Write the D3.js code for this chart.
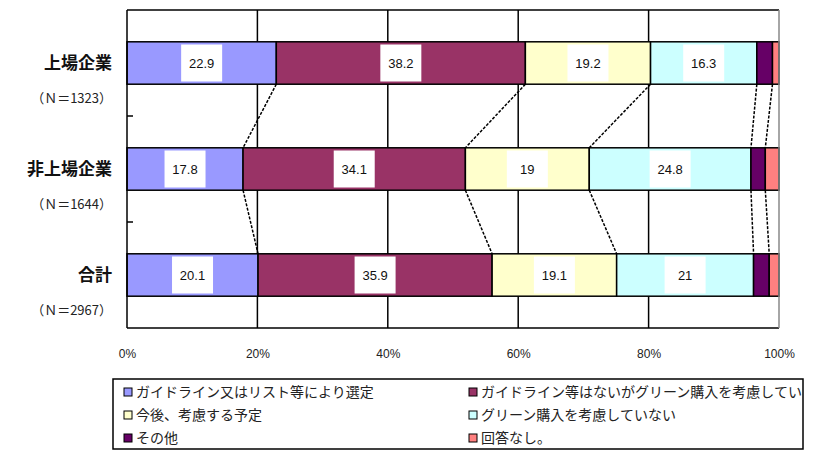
<!DOCTYPE html>
<html>
<head>
<meta charset="utf-8">
<script src="https://cdn.jsdelivr.net/npm/d3@7"></script>
<style>
  body { margin: 0; background: #fff; }
  svg { display: block; }
  text { font-family: "Noto Sans CJK JP", "Noto Sans", sans-serif; }
</style>
</head>
<body>
<svg id="chart" width="816" height="451"></svg>
<script>
// Respondent groups (row labels) and sample sizes
const categories = ["上場企業", "非上場企業", "合計"];
const sampleSizes = ["（Ｎ＝1323）", "（Ｎ＝1644）", "（Ｎ＝2967）"];

// Answer options, in stacking order
const seriesNames = [
  "ガイドライン又はリスト等により選定",
  "ガイドライン等はないがグリーン購入を考慮している",
  "今後、考慮する予定",
  "グリーン購入を考慮していない",
  "その他",
  "回答なし。"
];
const seriesColors = ["#9999FF", "#993366", "#FFFFCC", "#CCFFFF", "#660066", "#FF8080"];

// Share of answers (%) per group, one array per answer option
const guidelineList   = [22.9, 17.8, 20.1];
const considerWithout = [38.2, 34.1, 35.9];
const planToConsider  = [19.2, 19.0, 19.1];
const notConsidering  = [16.3, 24.8, 21.0];
const otherAnswer     = [2.4, 2.2, 2.4];
const noAnswer        = [1.0, 2.1, 1.5];

const xTicks = [0, 20, 40, 60, 80, 100];

const seriesValues = [guidelineList, considerWithout, planToConsider, notConsidering, otherAnswer, noAnswer];

const svg = d3.select("#chart");
const plot = { left: 127, right: 779, top: 10, bottom: 328 };

const x = d3.scaleLinear().domain([0, 100]).range([plot.left, plot.right]);
const y = d3.scaleBand().domain(categories).range([plot.top, plot.bottom])
  .paddingInner(0.6).paddingOuter(0.3);

// Build stacked rows
const rows = categories.map((c, i) => {
  const row = { cat: c };
  seriesNames.forEach((s, j) => row[s] = seriesValues[j][i]);
  return row;
});
const stacked = d3.stack().keys(seriesNames)(rows);

// Plot background and vertical gridlines
svg.append("rect").attr("x", plot.left).attr("y", plot.top)
  .attr("width", plot.right - plot.left).attr("height", plot.bottom - plot.top)
  .attr("fill", "#fff");
svg.append("g").selectAll("line").data(xTicks.slice(1, -1)).join("line")
  .attr("x1", d => x(d)).attr("x2", d => x(d))
  .attr("y1", plot.top).attr("y2", plot.bottom)
  .attr("stroke", "#000").attr("stroke-width", 1.5);

// Stacked bars
const layers = svg.append("g").selectAll("g").data(stacked).join("g")
  .attr("fill", (d, i) => seriesColors[i]);
layers.selectAll("rect").data(d => d).join("rect")
  .attr("x", d => x(d[0]))
  .attr("y", d => y(d.data.cat))
  .attr("width", d => x(d[1]) - x(d[0]))
  .attr("height", y.bandwidth())
  .attr("stroke", "#000").attr("stroke-width", 1.5);

// Series lines joining segment boundaries between neighbouring bars
const connectors = [];
for (let k = 0; k < stacked.length - 1; k++) {
  for (let i = 0; i < categories.length - 1; i++) {
    connectors.push({
      x1: x(stacked[k][i][1]), y1: y(categories[i]) + y.bandwidth(),
      x2: x(stacked[k][i + 1][1]), y2: y(categories[i + 1])
    });
  }
}
svg.append("g").selectAll("line").data(connectors).join("line")
  .attr("x1", d => d.x1).attr("y1", d => d.y1)
  .attr("x2", d => d.x2).attr("y2", d => d.y2)
  .attr("stroke", "#000").attr("stroke-width", 1.5)
  .attr("stroke-dasharray", "3,1.5");

// Value labels on white boxes
const labelData = [];
stacked.forEach(layer => layer.forEach(d => {
  if (x(d[1]) - x(d[0]) > 50) labelData.push(d);
}));
const labels = svg.append("g").selectAll("g").data(labelData).join("g")
  .attr("transform", d => `translate(${(x(d[0]) + x(d[1])) / 2},${y(d.data.cat) + y.bandwidth() / 2})`);
labels.append("rect").attr("x", -20.5).attr("y", -18.5).attr("width", 41).attr("height", 37)
  .attr("fill", "#fff");
labels.append("text").attr("text-anchor", "middle").attr("dy", "0.36em")
  .style("font-family", "'Liberation Sans', Arial, sans-serif")
  .style("font-size", "13px").attr("fill", "#111")
  .text(d => {
    const v = +(d[1] - d[0]).toFixed(1);
    return Number.isInteger(v) ? d3.format("d")(v) : d3.format(".1f")(v);
  });

// Plot frame
svg.append("line").attr("x1", plot.left).attr("x2", plot.right).attr("y1", plot.top).attr("y2", plot.top)
  .attr("stroke", "#000").attr("stroke-width", 1.5);
svg.append("line").attr("x1", plot.left).attr("x2", plot.right).attr("y1", plot.bottom).attr("y2", plot.bottom)
  .attr("stroke", "#000").attr("stroke-width", 1.5);
svg.append("line").attr("x1", plot.left).attr("x2", plot.left).attr("y1", plot.top).attr("y2", plot.bottom)
  .attr("stroke", "#000").attr("stroke-width", 1.5);
svg.append("line").attr("x1", plot.right).attr("x2", plot.right).attr("y1", plot.top).attr("y2", plot.bottom)
  .attr("stroke", "#888").attr("stroke-width", 1.5);

// Category tick marks at band boundaries
const step = y.step();
const boundary = d => y(d) - (step - y.bandwidth()) / 2;
svg.append("g").selectAll("line").data(categories.slice(1)).join("line")
  .attr("x1", plot.left).attr("x2", plot.left + 6)
  .attr("y1", boundary).attr("y2", boundary)
  .attr("stroke", "#000").attr("stroke-width", 1.5);

// Category labels with sample sizes
const catLabels = svg.append("g").selectAll("g").data(categories).join("g")
  .attr("transform", d => `translate(112,${y(d) + y.bandwidth() / 2})`);
catLabels.append("text").attr("text-anchor", "end").attr("dy", "0.36em")
  .style("font-size", "17px").style("font-weight", "bold").attr("fill", "#111")
  .text(d => d);
catLabels.append("text").attr("text-anchor", "end").attr("y", 35).attr("dy", "0.36em")
  .style("font-size", "13px").attr("fill", "#222")
  .text((d, i) => sampleSizes[i]);

// X axis labels
const xAxis = d3.axisBottom(x).tickValues(xTicks).tickSize(0).tickPadding(21)
  .tickFormat(d => d + "%");
const gx = svg.append("g").attr("transform", `translate(0,${plot.bottom})`).call(xAxis);
gx.select(".domain").remove();
gx.selectAll("text").style("font-family", "'Liberation Sans', Arial, sans-serif")
  .style("font-size", "12px").attr("fill", "#222");

// Legend
const legend = { left: 113, top: 379, width: 690, height: 70 };
svg.append("defs").append("clipPath").attr("id", "legendClip")
  .append("rect").attr("x", legend.left).attr("y", legend.top)
  .attr("width", legend.width).attr("height", legend.height);
svg.append("rect").attr("x", legend.left).attr("y", legend.top)
  .attr("width", legend.width).attr("height", legend.height)
  .attr("fill", "#fff").attr("stroke", "#000").attr("stroke-width", 1.5);
const items = svg.append("g").attr("clip-path", "url(#legendClip)")
  .selectAll("g").data(seriesNames).join("g")
  .attr("transform", (d, i) => `translate(${legend.left + 11 + (i % 2) * 345},${legend.top + 13 + Math.floor(i / 2) * 23})`);
items.append("rect").attr("x", 0).attr("y", -4).attr("width", 8).attr("height", 8)
  .attr("fill", (d, i) => seriesColors[i]).attr("stroke", "#000").attr("stroke-width", 1);
items.append("text").attr("x", 12).attr("dy", "0.36em")
  .style("font-size", "14px").attr("fill", "#222")
  .text(d => d);
</script>
</body>
</html>
